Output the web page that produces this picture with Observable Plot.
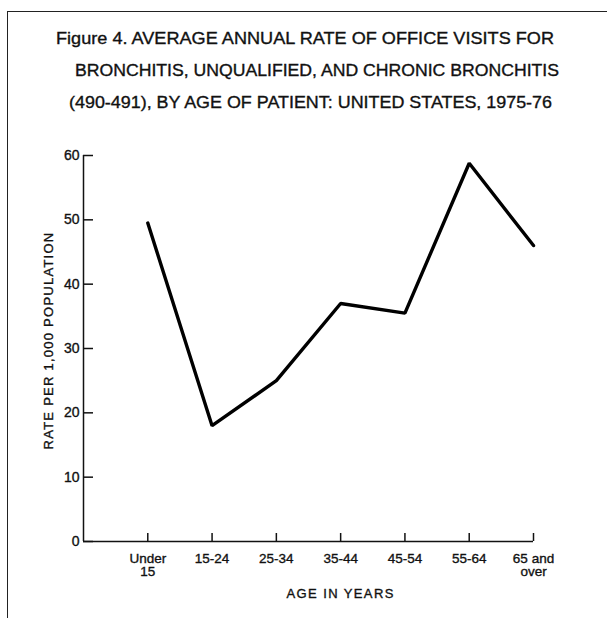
<!DOCTYPE html>
<html><head><meta charset="utf-8">
<script src="https://cdn.jsdelivr.net/npm/d3@7"></script>
<script src="https://cdn.jsdelivr.net/npm/@observablehq/plot@0.6"></script>
<style>
html,body{margin:0;padding:0;background:#fff;}
#page{position:relative;width:607px;height:618px;overflow:hidden;font-family:"Liberation Sans",Arial,sans-serif;}
#frame{position:absolute;left:7px;top:11px;right:-10px;bottom:-10px;border-top:1.5px solid #222;border-left:1.5px solid #222;}
#title{position:absolute;left:0;top:0;}
#chart{position:absolute;left:0;top:130px;}
#page text{stroke:#111;stroke-width:0.35px;paint-order:stroke;}
</style></head><body>
<div id="page"><div id="frame"></div><svg id="title" width="607" height="130"></svg><div id="chart"></div></div>
<script>
// ---- data ----
const titleLines = [
  "Figure 4. AVERAGE ANNUAL RATE OF OFFICE VISITS FOR",
  "BRONCHITIS, UNQUALIFIED, AND CHRONIC BRONCHITIS",
  "(490-491), BY AGE OF PATIENT: UNITED STATES, 1975-76"
];
const ageGroups = ["Under\n15", "15-24", "25-34", "35-44", "45-54", "55-64", "65 and\nover"];
const rates = [49.5, 18, 25, 37, 35.5, 58.8, 46];
const yTicks = [0, 10, 20, 30, 40, 50, 60];
const xLabel = "AGE IN YEARS";
const yLabel = "RATE PER 1,000 POPULATION";

// ---- title layout ----
const titleLayout = [{x: 56, w: 498, y: 44}, {x: 75, w: 484, y: 76}, {x: 69, w: 483, y: 108}];
const tsvg = d3.select("#title");
titleLines.forEach((t, i) => {
  const L = titleLayout[i];
  tsvg.append("text").attr("x", L.x).attr("y", L.y)
    .attr("textLength", L.w).attr("lengthAdjust", "spacingAndGlyphs")
    .attr("font-family", "Liberation Sans, Arial, sans-serif").attr("font-size", 17)
    .attr("fill", "#111").text(t);
});

// ---- chart ----
const W = 607, H = 488, mL = 83, mR = 74, mT = 25, mB = 77;
const pos = ageGroups.map((d, i) => i + 1);
const data = ageGroups.map((g, i) => ({age: g, x: i + 1, rate: rates[i]}));
const pxX = 7 / (W - mL - mR), pxY = 60 / (H - mT - mB);

const chart = Plot.plot({
  width: W, height: H, marginLeft: mL, marginRight: mR, marginTop: mT, marginBottom: mB,
  style: {fontFamily: "Liberation Sans, Arial, sans-serif", color: "#111", background: "transparent", overflow: "visible"},
  x: {domain: [0, 7]},
  y: {domain: [0, 60]},
  marks: [
    Plot.axisY({ticks: yTicks, tickSize: 0, tickPadding: 4, fontSize: 14, label: null}),
    Plot.axisX({ticks: pos, tickSize: 0, tickPadding: 12, fontSize: 13.5, label: null, lineHeight: 0.98,
      tickFormat: d => ageGroups[d - 1]}),
    Plot.ruleX([0], {y1: 0, y2: 60, strokeWidth: 1.5}),
    Plot.ruleY([0], {x1: 0, x2: 7, strokeWidth: 1.5}),
    Plot.ruleY(yTicks, {y: d => d, x1: 0, x2: 10 * pxX, strokeWidth: 1.5}),
    Plot.ruleX(pos, {x: d => d, y1: 0, y2: 8 * pxY, strokeWidth: 1.5}),
    Plot.line(data, {x: "x", y: "rate", stroke: "#000", strokeWidth: 3.4, strokeLinejoin: "miter"}),
    Plot.text([yLabel], {text: d => d, frameAnchor: "left", textAnchor: "middle", rotate: -90, dx: -35, dy: -8, fontSize: 13}),
    Plot.text([xLabel], {text: d => d, x: d3.mean(pos), frameAnchor: "bottom", textAnchor: "middle", dy: 56, fontSize: 13})
  ]
});
d3.select(chart).selectAll("text").each(function() {
  const t = this.textContent;
  if (t === yLabel) d3.select(this).style("letter-spacing", "1.25px");
  if (t === xLabel) d3.select(this).style("letter-spacing", "1.4px");
});
document.getElementById("chart").appendChild(chart);
</script>
</body></html>
